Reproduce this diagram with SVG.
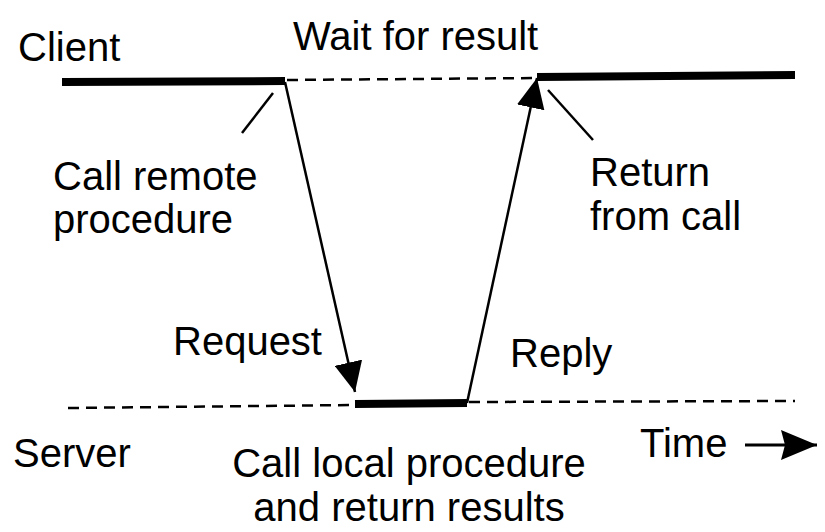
<svg xmlns="http://www.w3.org/2000/svg" width="825" height="532" viewBox="0 0 825 532">
  <style>
    text { font-family: "Liberation Sans", Arial, sans-serif; font-size: 40px; fill: #000; }
    .busy { stroke: #000; stroke-width: 8; stroke-linecap: butt; fill: none; }
    .idle { stroke: #000; stroke-width: 2.5; stroke-dasharray: 11 7; fill: none; }
    .msg { stroke: #000; stroke-width: 2.5; fill: none; }
    .lead { stroke: #000; stroke-width: 2.5; fill: none; }
  </style>
  <defs>
    <marker id="head" markerUnits="userSpaceOnUse" markerWidth="32" markerHeight="28" refX="30" refY="14" orient="auto">
      <path d="M0,0 L30,14 L0,28 Z" fill="#000"/>
    </marker>
    <marker id="timeHead" markerUnits="userSpaceOnUse" markerWidth="38" markerHeight="32" refX="36" refY="16" orient="auto">
      <path d="M0,1 L36,16 L0,31 L4,16 Z" fill="#000"/>
    </marker>
  </defs>

  <!-- client timeline -->
  <g id="client">
    <text x="18" y="61">Client</text>
    <line class="busy" x1="62" y1="82" x2="285" y2="81"/>
    <line class="idle" x1="287" y1="80" x2="537" y2="78"/>
    <line class="busy" x1="537" y1="77" x2="795" y2="75"/>
    <text x="293" y="50">Wait for result</text>
  </g>

  <!-- server timeline -->
  <g id="server">
    <text x="13" y="467">Server</text>
    <line class="idle" x1="68" y1="408" x2="355" y2="405"/>
    <line class="busy" x1="355" y1="404" x2="467" y2="403"/>
    <line class="idle" x1="469" y1="402" x2="795" y2="401"/>
    <text x="409" y="477" text-anchor="middle">Call local procedure</text>
    <text x="409" y="521" text-anchor="middle">and return results</text>
  </g>

  <!-- annotations -->
  <g id="call-remote">
    <line class="lead" x1="273" y1="93" x2="242" y2="133"/>
    <text x="53" y="190">Call remote</text>
    <text x="53" y="233">procedure</text>
  </g>
  <g id="return-from-call">
    <line class="lead" x1="548" y1="90" x2="593" y2="140"/>
    <text x="590" y="186">Return</text>
    <text x="590" y="230">from call</text>
  </g>
  <g id="request-label">
    <text x="173" y="355">Request</text>
  </g>
  <g id="reply-label">
    <text x="510" y="367">Reply</text>
  </g>
  <g id="time-axis">
    <text x="640" y="457">Time</text>
  </g>

  <!-- connectors -->
  <g id="connectors">
    <line class="msg" x1="285" y1="82" x2="355" y2="392" marker-end="url(#head)"/>
    <line class="msg" x1="467" y1="403" x2="537" y2="78" marker-end="url(#head)"/>
    <line stroke="#000" stroke-width="3" x1="745" y1="445" x2="817" y2="445" marker-end="url(#timeHead)"/>
  </g>
</svg>
